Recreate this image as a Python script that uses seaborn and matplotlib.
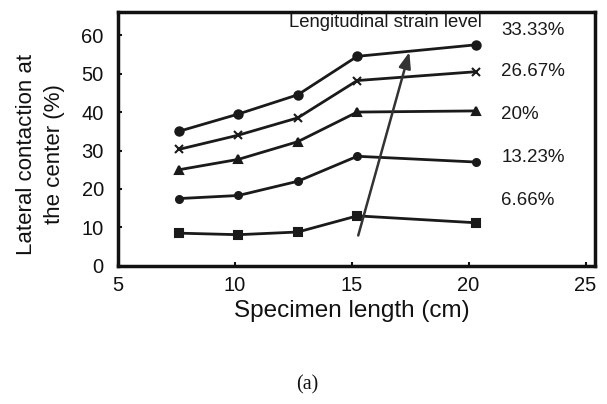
import matplotlib
matplotlib.use("Agg")
import matplotlib.pyplot as plt
import seaborn as sns
import pandas as pd

# Specimen lengths (cm) and lateral contraction at the center (%) per strain level
lengths = [7.62, 10.16, 12.7, 15.24, 20.32]
strain_levels = ["33.33%", "26.67%", "20%", "13.23%", "6.66%"]
s_3333 = [35.0, 39.5, 44.5, 54.5, 57.5]
s_2667 = [30.3, 34.0, 38.5, 48.2, 50.5]
s_2000 = [25.0, 27.7, 32.3, 40.0, 40.3]
s_1323 = [17.5, 18.3, 22.0, 28.5, 27.0]
s_0666 = [8.5, 8.1, 8.8, 13.0, 11.2]
series = [s_3333, s_2667, s_2000, s_1323, s_0666]
label_y = [61.3, 50.5, 39.4, 28.3, 17.0]

rows = []
for lvl, vals in zip(strain_levels, series):
    for x, y in zip(lengths, vals):
        rows.append({"length": x, "contraction": y, "level": lvl})
df = pd.DataFrame(rows)

sns.set_theme(style="white")
plt.rcParams["font.family"] = ["Liberation Sans", "DejaVu Sans"]

fig = plt.figure(figsize=(6.07, 4.04), dpi=100)
ax = fig.add_axes([0.194, 0.342, 0.786, 0.628])

markers = {"33.33%": "o", "26.67%": "x", "20%": "^", "13.23%": "o", "6.66%": "s"}
sizes = {"33.33%": 6, "26.67%": 6, "20%": 6, "13.23%": 5, "6.66%": 6}
for lvl in strain_levels:
    sub = df[df["level"] == lvl]
    sns.lineplot(data=sub, x="length", y="contraction", ax=ax, color="#1a1a1a",
                 marker=markers[lvl], markersize=sizes[lvl], markeredgewidth=1.5,
                 markeredgecolor="#1a1a1a", linewidth=2.0, legend=False)

for lvl, yy in zip(strain_levels, label_y):
    ax.text(21.4, yy, lvl, fontsize=13.5, va="center", ha="left", color="#1a1a1a")
ax.text(20.55, 63.4, "Lengitudinal strain level", fontsize=13.3, va="center",
        ha="right", color="#1a1a1a")

# Arrow indicating increasing strain level
ax.annotate("", xy=(17.5, 56.3), xytext=(15.25, 7.2),
            arrowprops=dict(arrowstyle="-|>,head_length=0.8,head_width=0.3",
                            color="#333333", lw=1.8))

ax.set_xlim(5, 25.4)
ax.set_ylim(0, 66)
ax.set_xticks([5, 10, 15, 20, 25])
ax.set_yticks([0, 10, 20, 30, 40, 50, 60])
ax.tick_params(axis="both", labelsize=14.5, direction="in", length=3, width=1.5,
               colors="#111111", bottom=True, left=True)
ax.tick_params(axis="x", pad=7)
ax.tick_params(axis="y", pad=10)
ax.set_xlabel("Specimen length (cm)", fontsize=17.5, color="#111111")
ax.set_ylabel("Lateral contaction at\nthe center (%)", fontsize=16,
              color="#111111", linespacing=1.45)
ax.xaxis.set_label_coords(0.49, -0.135)
ax.yaxis.set_label_coords(-0.11, 0.44)
for sp in ax.spines.values():
    sp.set_linewidth(2.5)
    sp.set_color("#111111")

fig.text(0.507, 0.047, "(a)", fontsize=14.5, ha="center", va="center",
         family=["Liberation Serif", "DejaVu Serif"], color="#111111")

fig.savefig("out.png", dpi=100)
